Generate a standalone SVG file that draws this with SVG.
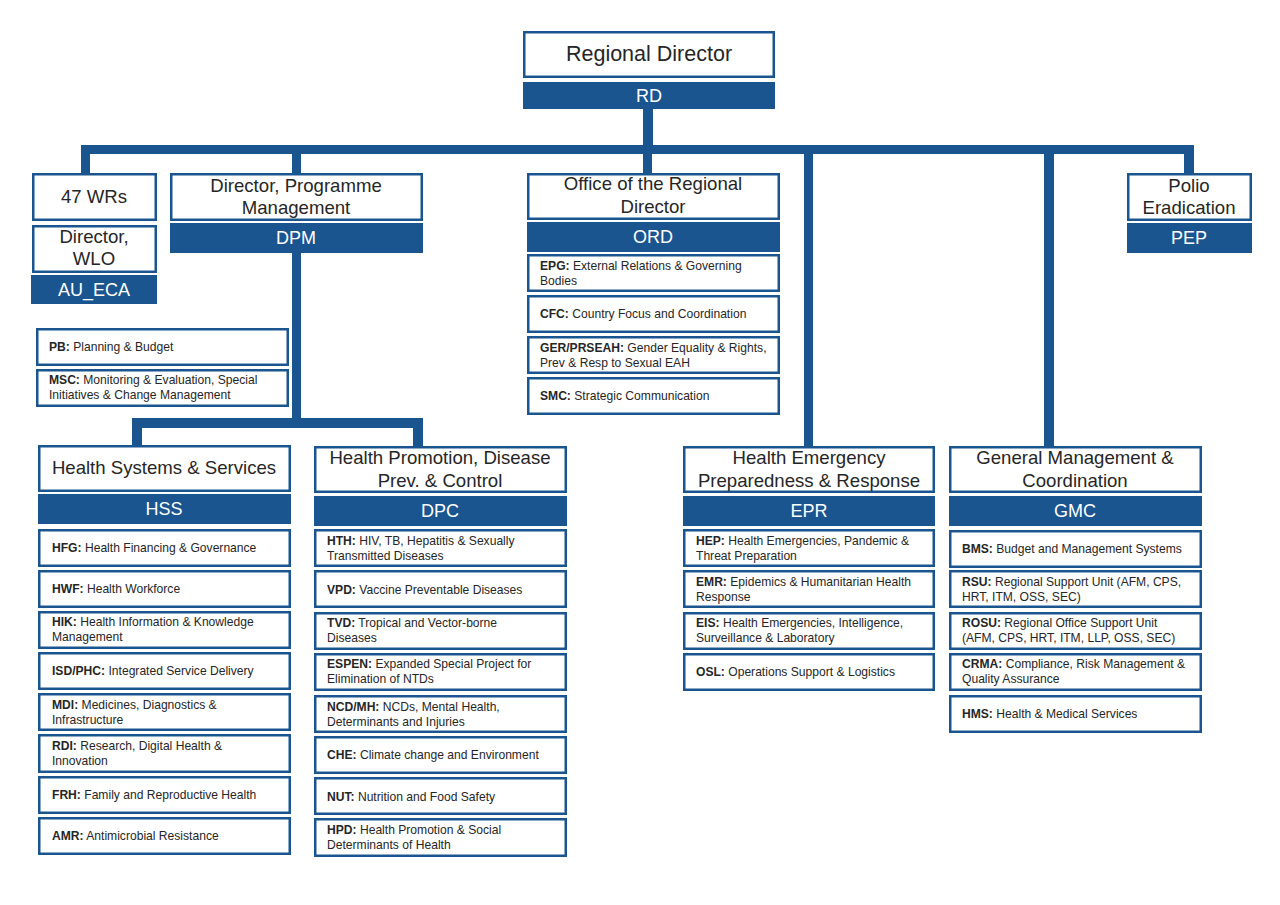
<svg xmlns="http://www.w3.org/2000/svg" width="1280" height="905" viewBox="0 0 1280 905">
<style>
.bx{fill:#fff;stroke:#1b5590;stroke-width:2.5}
.band{fill:#1b5590}
.ln{fill:#1b5590}
.t{font-family:"Liberation Sans",Arial,sans-serif;fill:#262626;text-anchor:middle}
.tt{font-size:18.6px}
.bt{font-family:"Liberation Sans",Arial,sans-serif;fill:#fff;font-size:18px;text-anchor:middle}
.s{font-family:"Liberation Sans",Arial,sans-serif;fill:#262626;font-size:12.1px}
.s tspan.b{font-weight:bold}
</style>
<rect width="1280" height="905" fill="#fff"/>
<g id="connectors">
<rect class="ln" x="643" y="109" width="10" height="40"/>
<rect class="ln" x="81" y="145" width="1113" height="9"/>
<rect class="ln" x="81" y="145" width="9" height="29"/>
<rect class="ln" x="292" y="145" width="9" height="29"/>
<rect class="ln" x="643" y="145" width="9" height="29"/>
<rect class="ln" x="804" y="145" width="9" height="302"/>
<rect class="ln" x="1044" y="145" width="10" height="302"/>
<rect class="ln" x="1184" y="145" width="10" height="29"/>
<rect class="ln" x="292" y="252" width="9" height="176"/>
<rect class="ln" x="132" y="418" width="291" height="10"/>
<rect class="ln" x="132" y="418" width="10" height="28"/>
<rect class="ln" x="413" y="418" width="10" height="29"/>
</g>
<g id="rd">
<rect class="bx" x="524.25" y="32.25" width="249.5" height="44.5"/>
<text class="t" x="649" y="61" font-size="21.5">Regional Director</text>
<rect class="band" x="523" y="82" width="252" height="27"/>
<text class="bt" x="649" y="102">RD</text>
</g>
<g id="wrs">
<rect class="bx" x="33.25" y="174.25" width="122.5" height="45.5"/>
<text class="t tt" x="94" y="203">47 WRs</text>
</g>
<g id="wlo">
<rect class="bx" x="33.25" y="226.25" width="122.5" height="45.5"/>
<text class="t tt" x="94" y="243">Director,</text>
<text class="t tt" x="94" y="265">WLO</text>
<rect class="band" x="31" y="275" width="126" height="29"/>
<text class="bt" x="94" y="296">AU_ECA</text>
</g>
<g id="dpm">
<rect class="bx" x="171.25" y="174.25" width="250.5" height="45.5"/>
<text class="t tt" x="296" y="192">Director, Programme</text>
<text class="t tt" x="296" y="214">Management</text>
<rect class="band" x="170" y="223" width="253" height="30"/>
<text class="bt" x="296" y="244">DPM</text>
</g>
<g id="ord">
<rect class="bx" x="528.25" y="174.25" width="250.5" height="44.5"/>
<text class="t tt" x="653" y="190">Office of the Regional</text>
<text class="t tt" x="653" y="213">Director</text>
<rect class="band" x="527" y="222" width="253" height="30"/>
<text class="bt" x="653" y="243">ORD</text>
</g>
<g id="pep">
<rect class="bx" x="1128.25" y="174.25" width="122.5" height="45.5"/>
<text class="t tt" x="1189" y="192">Polio</text>
<text class="t tt" x="1189" y="214">Eradication</text>
<rect class="band" x="1127" y="223" width="125" height="30"/>
<text class="bt" x="1189" y="244">PEP</text>
</g>
<g id="ord-units">
<rect class="bx" x="528.25" y="255.25" width="250.5" height="35.5"/>
<text class="s" x="540" y="270"><tspan class="b">EPG:</tspan> External Relations &amp; Governing</text>
<text class="s" x="540" y="285">Bodies</text>
<rect class="bx" x="528.25" y="296.25" width="250.5" height="35.5"/>
<text class="s" x="540" y="318"><tspan class="b">CFC:</tspan> Country Focus and Coordination</text>
<rect class="bx" x="528.25" y="337.25" width="250.5" height="35.5"/>
<text class="s" x="540" y="352"><tspan class="b">GER/PRSEAH:</tspan> Gender Equality &amp; Rights,</text>
<text class="s" x="540" y="367">Prev &amp; Resp to Sexual EAH</text>
<rect class="bx" x="528.25" y="378.25" width="250.5" height="35.5"/>
<text class="s" x="540" y="400"><tspan class="b">SMC:</tspan> Strategic Communication</text>
</g>
<g id="dpm-units">
<rect class="bx" x="37.25" y="329.25" width="250.5" height="35.5"/>
<text class="s" x="49" y="351"><tspan class="b">PB:</tspan> Planning &amp; Budget</text>
<rect class="bx" x="37.25" y="370.25" width="250.5" height="35.5"/>
<text class="s" x="49" y="384"><tspan class="b">MSC:</tspan> Monitoring &amp; Evaluation, Special</text>
<text class="s" x="49" y="399">Initiatives &amp; Change Management</text>
</g>
<g id="hss">
<rect class="bx" x="39.25" y="446.25" width="250.5" height="44.5"/>
<text class="t tt" x="164" y="474">Health Systems &amp; Services</text>
<rect class="band" x="38" y="494" width="253" height="30"/>
<text class="bt" x="164" y="515">HSS</text>
<rect class="bx" x="39.25" y="530.25" width="250.5" height="35.5"/>
<text class="s" x="52" y="552"><tspan class="b">HFG:</tspan> Health Financing &amp; Governance</text>
<rect class="bx" x="39.25" y="571.25" width="250.5" height="35.5"/>
<text class="s" x="52" y="593"><tspan class="b">HWF:</tspan> Health Workforce</text>
<rect class="bx" x="39.25" y="612.25" width="250.5" height="35.5"/>
<text class="s" x="52" y="626"><tspan class="b">HIK:</tspan> Health Information &amp; Knowledge</text>
<text class="s" x="52" y="641">Management</text>
<rect class="bx" x="39.25" y="653.25" width="250.5" height="35.5"/>
<text class="s" x="52" y="675"><tspan class="b">ISD/PHC:</tspan> Integrated Service Delivery</text>
<rect class="bx" x="39.25" y="694.25" width="250.5" height="35.5"/>
<text class="s" x="52" y="709"><tspan class="b">MDI:</tspan> Medicines, Diagnostics &amp;</text>
<text class="s" x="52" y="724">Infrastructure</text>
<rect class="bx" x="39.25" y="735.25" width="250.5" height="36.5"/>
<text class="s" x="52" y="750"><tspan class="b">RDI:</tspan> Research, Digital Health &amp;</text>
<text class="s" x="52" y="765">Innovation</text>
<rect class="bx" x="39.25" y="777.25" width="250.5" height="35.5"/>
<text class="s" x="52" y="799"><tspan class="b">FRH:</tspan> Family and Reproductive Health</text>
<rect class="bx" x="39.25" y="818.25" width="250.5" height="35.5"/>
<text class="s" x="52" y="840"><tspan class="b">AMR:</tspan> Antimicrobial Resistance</text>
</g>
<g id="dpc">
<rect class="bx" x="315.25" y="447.25" width="250.5" height="44.5"/>
<text class="t tt" x="440" y="464">Health Promotion, Disease</text>
<text class="t tt" x="440" y="487">Prev. &amp; Control</text>
<rect class="band" x="314" y="496" width="253" height="30"/>
<text class="bt" x="440" y="517">DPC</text>
<rect class="bx" x="315.25" y="530.25" width="250.5" height="35.5"/>
<text class="s" x="327" y="545"><tspan class="b">HTH:</tspan> HIV, TB, Hepatitis &amp; Sexually</text>
<text class="s" x="327" y="560">Transmitted Diseases</text>
<rect class="bx" x="315.25" y="571.25" width="250.5" height="35.5"/>
<text class="s" x="327" y="594"><tspan class="b">VPD:</tspan> Vaccine Preventable Diseases</text>
<rect class="bx" x="315.25" y="613.25" width="250.5" height="35.5"/>
<text class="s" x="327" y="627"><tspan class="b">TVD:</tspan> Tropical and Vector-borne</text>
<text class="s" x="327" y="642">Diseases</text>
<rect class="bx" x="315.25" y="654.25" width="250.5" height="35.5"/>
<text class="s" x="327" y="668"><tspan class="b">ESPEN:</tspan> Expanded Special Project for</text>
<text class="s" x="327" y="683">Elimination of NTDs</text>
<rect class="bx" x="315.25" y="696.25" width="250.5" height="35.5"/>
<text class="s" x="327" y="711"><tspan class="b">NCD/MH:</tspan> NCDs, Mental Health,</text>
<text class="s" x="327" y="726">Determinants and Injuries</text>
<rect class="bx" x="315.25" y="737.25" width="250.5" height="35.5"/>
<text class="s" x="327" y="759"><tspan class="b">CHE:</tspan> Climate change and Environment</text>
<rect class="bx" x="315.25" y="778.25" width="250.5" height="35.5"/>
<text class="s" x="327" y="801"><tspan class="b">NUT:</tspan> Nutrition and Food Safety</text>
<rect class="bx" x="315.25" y="819.25" width="250.5" height="36.5"/>
<text class="s" x="327" y="834"><tspan class="b">HPD:</tspan> Health Promotion &amp; Social</text>
<text class="s" x="327" y="849">Determinants of Health</text>
</g>
<g id="epr">
<rect class="bx" x="684.25" y="447.25" width="249.5" height="44.5"/>
<text class="t tt" x="809" y="464">Health Emergency</text>
<text class="t tt" x="809" y="487">Preparedness &amp; Response</text>
<rect class="band" x="683" y="496" width="252" height="30"/>
<text class="bt" x="809" y="517">EPR</text>
<rect class="bx" x="684.25" y="530.25" width="249.5" height="35.5"/>
<text class="s" x="696" y="545"><tspan class="b">HEP:</tspan> Health Emergencies, Pandemic &amp;</text>
<text class="s" x="696" y="560">Threat Preparation</text>
<rect class="bx" x="684.25" y="571.25" width="249.5" height="35.5"/>
<text class="s" x="696" y="586"><tspan class="b">EMR:</tspan> Epidemics &amp; Humanitarian Health</text>
<text class="s" x="696" y="601">Response</text>
<rect class="bx" x="684.25" y="613.25" width="249.5" height="35.5"/>
<text class="s" x="696" y="627"><tspan class="b">EIS:</tspan> Health Emergencies, Intelligence,</text>
<text class="s" x="696" y="642">Surveillance &amp; Laboratory</text>
<rect class="bx" x="684.25" y="654.25" width="249.5" height="35.5"/>
<text class="s" x="696" y="676"><tspan class="b">OSL:</tspan> Operations Support &amp; Logistics</text>
</g>
<g id="gmc">
<rect class="bx" x="950.25" y="447.25" width="250.5" height="44.5"/>
<text class="t tt" x="1075" y="464">General Management &amp;</text>
<text class="t tt" x="1075" y="487">Coordination</text>
<rect class="band" x="949" y="496" width="253" height="30"/>
<text class="bt" x="1075" y="517">GMC</text>
<rect class="bx" x="950.25" y="531.25" width="250.5" height="35.5"/>
<text class="s" x="962" y="553"><tspan class="b">BMS:</tspan> Budget and Management Systems</text>
<rect class="bx" x="950.25" y="571.25" width="250.5" height="35.5"/>
<text class="s" x="962" y="586"><tspan class="b">RSU:</tspan> Regional Support Unit (AFM, CPS,</text>
<text class="s" x="962" y="601">HRT, ITM, OSS, SEC)</text>
<rect class="bx" x="950.25" y="613.25" width="250.5" height="35.5"/>
<text class="s" x="962" y="627"><tspan class="b">ROSU:</tspan> Regional Office Support Unit</text>
<text class="s" x="962" y="642">(AFM, CPS, HRT, ITM, LLP, OSS, SEC)</text>
<rect class="bx" x="950.25" y="654.25" width="250.5" height="35.5"/>
<text class="s" x="962" y="668"><tspan class="b">CRMA:</tspan> Compliance, Risk Management &amp;</text>
<text class="s" x="962" y="683">Quality Assurance</text>
<rect class="bx" x="950.25" y="696.25" width="250.5" height="35.5"/>
<text class="s" x="962" y="718"><tspan class="b">HMS:</tspan> Health &amp; Medical Services</text>
</g>
</svg>
